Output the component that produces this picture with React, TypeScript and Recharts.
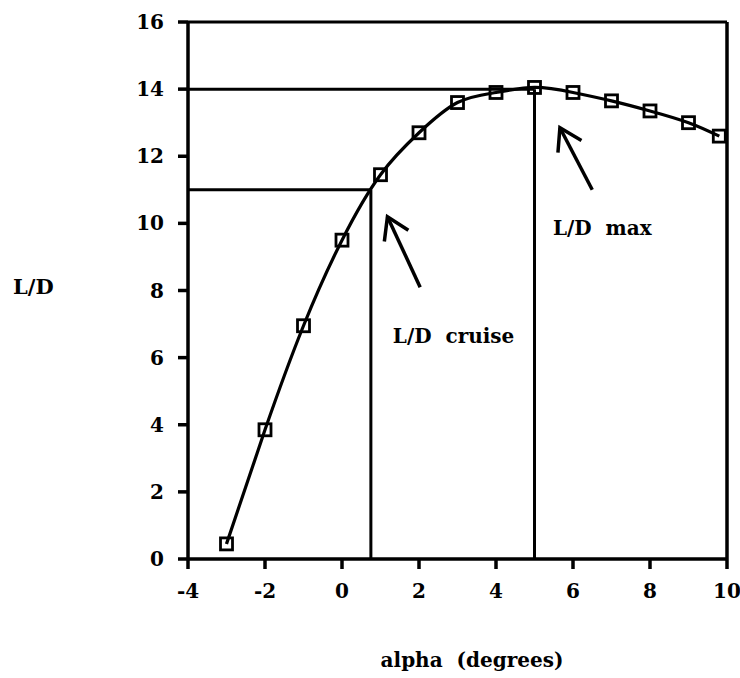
import React from "react";
import {
  LineChart,
  Line,
  XAxis,
  YAxis,
  ReferenceLine,
  ReferenceDot,
} from "recharts";

// angle of attack (deg) and measured lift/drag ratio
const alpha = [-3, -2, -1, 0, 1, 2, 3, 4, 5, 6, 7, 8, 9, 9.8];
const liftDrag = [0.45, 3.85, 6.95, 9.5, 11.45, 12.7, 13.6, 13.9, 14.05, 13.9, 13.65, 13.35, 13.0, 12.6];

const xTicks = [-4, -2, 0, 2, 4, 6, 8, 10];
const yTicks = [0, 2, 4, 6, 8, 10, 12, 14, 16];

// cruise and max operating points
const cruise = { alpha: 0.75, ld: 11 };
const maxPt = { alpha: 5, ld: 14 };

// arrows: [tailX, tailY, tipX, tipY] in data units
const cruiseArrow = [2.03, 8.1, 1.18, 10.2];
const maxArrow = [6.5, 11.0, 5.66, 12.85];

const data = alpha.map((a, i) => ({ alpha: a, ld: liftDrag[i] }));

const FONT = "'DejaVu Serif', serif";

const Square = (props: any) => {
  const { cx, cy, index } = props;
  if (cx == null || cy == null) return null;
  return (
    <rect
      key={index}
      x={cx - 6}
      y={cy - 6}
      width={12}
      height={12}
      fill="none"
      stroke="#000"
      strokeWidth={2.8}
    />
  );
};

const Arrow = (p: any) => {
  const { x1, y1, x2, y2 } = p;
  const ang = Math.atan2(y1 - y2, x1 - x2);
  const len = 25;
  const spread = (32 * Math.PI) / 180;
  const a1x = x2 + len * Math.cos(ang + spread);
  const a1y = y2 + len * Math.sin(ang + spread);
  const a2x = x2 + len * Math.cos(ang - spread);
  const a2y = y2 + len * Math.sin(ang - spread);
  return (
    <g>
      <line x1={x1} y1={y1} x2={x2} y2={y2} stroke="#000" strokeWidth={3.5} />
      <polyline
        points={`${a1x},${a1y} ${x2},${y2} ${a2x},${a2y}`}
        fill="none"
        stroke="#000"
        strokeWidth={3.5}
      />
    </g>
  );
};

const note = (text: string) => (p: any) =>
  (
    <text
      x={p.cx}
      y={p.cy}
      fontFamily={FONT}
      fontWeight="bold"
      fontSize={20}
      fill="#000"
      style={{ whiteSpace: "pre" }}
    >
      {text}
    </text>
  );

const tickStyle = { fill: "#000", fontFamily: FONT, fontWeight: "bold", fontSize: 20 };

export default function App() {
  return (
    <div style={{ position: "absolute", left: 0, top: 0, width: 740, height: 678, background: "#fff" }}>
      <LineChart
        width={740}
        height={678}
        data={data}
        margin={{ top: 22, right: 13, left: 128, bottom: 79 }}
      >
        <XAxis
          dataKey="alpha"
          type="number"
          domain={[-4, 10]}
          ticks={xTicks}
          allowDataOverflow
          height={40}
          stroke="#000"
          strokeWidth={3.5}
          tickSize={10}
          tickMargin={15}
          tick={tickStyle}
        />
        <YAxis
          type="number"
          domain={[0, 16]}
          ticks={yTicks}
          width={60}
          stroke="#000"
          strokeWidth={3.5}
          tickSize={10}
          tickMargin={14}
          tick={tickStyle}
        />
        <ReferenceLine y={16} stroke="#000" strokeWidth={3} />
        <ReferenceLine x={10} stroke="#000" strokeWidth={3.5} />
        <ReferenceLine
          segment={[{ x: -4, y: maxPt.ld }, { x: maxPt.alpha, y: maxPt.ld }]}
          stroke="#000"
          strokeWidth={3}
        />
        <ReferenceLine
          segment={[{ x: maxPt.alpha, y: 0 }, { x: maxPt.alpha, y: maxPt.ld }]}
          stroke="#000"
          strokeWidth={3}
        />
        <ReferenceLine
          segment={[{ x: -4, y: cruise.ld }, { x: cruise.alpha, y: cruise.ld }]}
          stroke="#000"
          strokeWidth={3}
        />
        <ReferenceLine
          segment={[{ x: cruise.alpha, y: 0 }, { x: cruise.alpha, y: cruise.ld }]}
          stroke="#000"
          strokeWidth={3}
        />
        <ReferenceLine
          segment={[{ x: cruiseArrow[0], y: cruiseArrow[1] }, { x: cruiseArrow[2], y: cruiseArrow[3] }]}
          shape={Arrow}
        />
        <ReferenceLine
          segment={[{ x: maxArrow[0], y: maxArrow[1] }, { x: maxArrow[2], y: maxArrow[3] }]}
          shape={Arrow}
        />
        <ReferenceDot x={1.32} y={6.44} r={0} shape={note("L/D  cruise")} />
        <ReferenceDot x={5.48} y={9.65} r={0} shape={note("L/D  max")} />
        <Line
          type="natural"
          dataKey="ld"
          stroke="#000"
          strokeWidth={3.2}
          dot={<Square />}
          isAnimationActive={false}
        />
      </LineChart>
      <div
        style={{
          position: "absolute",
          left: 13,
          top: 276,
          fontFamily: FONT,
          fontWeight: "bold",
          fontSize: 21,
          lineHeight: 1,
        }}
      >
        L/D
      </div>
      <div
        style={{
          position: "absolute",
          left: 372,
          width: 200,
          textAlign: "center",
          top: 650,
          fontFamily: FONT,
          fontWeight: "bold",
          fontSize: 20,
          lineHeight: 1,
          whiteSpace: "pre",
        }}
      >
        alpha  (degrees)
      </div>
    </div>
  );
}
